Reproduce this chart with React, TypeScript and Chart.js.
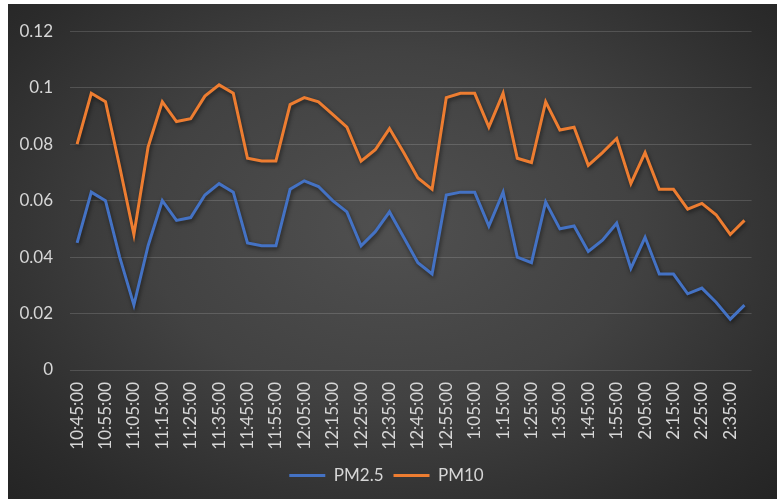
import React, { useEffect, useRef } from "react";
import { Chart, registerables } from "chart.js";

Chart.register(...registerables);

const timeLabels: string[] = [
  "10:45:00", "10:50:00", "10:55:00", "11:00:00", "11:05:00", "11:10:00",
  "11:15:00", "11:20:00", "11:25:00", "11:30:00", "11:35:00", "11:40:00",
  "11:45:00", "11:50:00", "11:55:00", "12:00:00", "12:05:00", "12:10:00",
  "12:15:00", "12:20:00", "12:25:00", "12:30:00", "12:35:00", "12:40:00",
  "12:45:00", "12:50:00", "12:55:00", "1:00:00", "1:05:00", "1:10:00",
  "1:15:00", "1:20:00", "1:25:00", "1:30:00", "1:35:00", "1:40:00",
  "1:45:00", "1:50:00", "1:55:00", "2:00:00", "2:05:00", "2:10:00",
  "2:15:00", "2:20:00", "2:25:00", "2:30:00", "2:35:00", "2:40:00",
];

const pm25: number[] = [
  0.045, 0.063, 0.06, 0.04, 0.023, 0.044, 0.06, 0.053, 0.054, 0.062, 0.066, 0.063,
  0.045, 0.044, 0.044, 0.064, 0.067, 0.065, 0.06, 0.056, 0.044, 0.049, 0.056, 0.047,
  0.038, 0.034, 0.062, 0.063, 0.063, 0.051, 0.063, 0.04, 0.038, 0.0595, 0.05, 0.051,
  0.042, 0.046, 0.052, 0.036, 0.047, 0.034, 0.034, 0.027, 0.029, 0.024, 0.018, 0.023,
];

const pm10: number[] = [
  0.08, 0.098, 0.095, 0.072, 0.048, 0.079, 0.095, 0.088, 0.089, 0.097, 0.101, 0.098,
  0.075, 0.074, 0.074, 0.094, 0.0965, 0.095, 0.0905, 0.086, 0.074, 0.078, 0.0855, 0.077,
  0.068, 0.064, 0.0965, 0.098, 0.098, 0.086, 0.098, 0.075, 0.0735, 0.095, 0.085, 0.086,
  0.0725, 0.077, 0.082, 0.066, 0.077, 0.064, 0.064, 0.057, 0.059, 0.055, 0.048, 0.053,
];

const seriesNames = ["PM2.5", "PM10"];
const seriesColors = ["#4472C4", "#ED7D31"];

const FONT = "Lato, 'Open Sans', sans-serif";
const TEXT_COLOR = "#d6d6d6";
const FONT_SIZE = 17;

const shadowPlugin = {
  id: "lineShadow",
  beforeDatasetsDraw(chart: any) {
    const ctx = chart.ctx;
    ctx.save();
    ctx.shadowColor = "rgba(0,0,0,0.55)";
    ctx.shadowBlur = 4;
    ctx.shadowOffsetX = 1;
    ctx.shadowOffsetY = 2;
  },
  afterDatasetsDraw(chart: any) {
    chart.ctx.restore();
  },
};

export default function App() {
  const canvasRef = useRef<HTMLCanvasElement | null>(null);

  useEffect(() => {
    if (!canvasRef.current) return;
    const chart = new Chart(canvasRef.current, {
      type: "line",
      data: {
        labels: timeLabels,
        datasets: [
          {
            label: seriesNames[0],
            data: pm25,
            borderColor: seriesColors[0],
            backgroundColor: seriesColors[0],
            borderWidth: 3,
            pointRadius: 0,
            tension: 0,
          },
          {
            label: seriesNames[1],
            data: pm10,
            borderColor: seriesColors[1],
            backgroundColor: seriesColors[1],
            borderWidth: 3,
            pointRadius: 0,
            tension: 0,
          },
        ],
      },
      options: {
        animation: false,
        responsive: true,
        maintainAspectRatio: false,
        layout: { padding: { left: 0, right: 12, top: 23, bottom: 5 } },
        plugins: {
          tooltip: { enabled: false },
          legend: {
            position: "bottom",
            labels: {
              color: TEXT_COLOR,
              font: { family: FONT, size: FONT_SIZE },
              boxWidth: 36,
              boxHeight: 3,
              padding: 10,
              generateLabels: (c: any) =>
                c.data.datasets.map((ds: any, i: number) => ({
                  text: ds.label,
                  fillStyle: ds.borderColor,
                  strokeStyle: ds.borderColor,
                  lineWidth: 0,
                  fontColor: TEXT_COLOR,
                  hidden: false,
                  datasetIndex: i,
                })),
            },
          },
        },
        scales: {
          x: {
            offset: true,
            grid: { display: false, drawTicks: false, tickLength: 0 },
            border: { display: false },
            ticks: {
              autoSkip: false,
              maxRotation: 90,
              minRotation: 90,
              padding: 12,
              color: TEXT_COLOR,
              font: { family: FONT, size: FONT_SIZE },
              callback: (_v: any, i: number) => (i % 2 === 0 ? timeLabels[i] : ""),
            },
            afterFit: (scale: any) => {
              scale.height = 87;
            },
          },
          y: {
            min: 0,
            max: 0.12,
            grid: {
              color: "rgba(255,255,255,0.15)",
              lineWidth: 1,
              drawTicks: false,
              tickLength: 0,
            },
            border: { display: false },
            ticks: {
              stepSize: 0.02,
              padding: 17,
              color: TEXT_COLOR,
              font: { family: FONT, size: FONT_SIZE },
              callback: (v: any) => String(Number(Number(v).toFixed(2))),
            },
            afterFit: (scale: any) => {
              scale.width = 62;
            },
          },
        },
      },
      plugins: [shadowPlugin],
    });
    return () => chart.destroy();
  }, []);

  return (
    <div
      style={{
        position: "absolute",
        left: 8,
        top: 4,
        width: 769,
        height: 495,
        background:
          "radial-gradient(ellipse at 50% 45%, #505050 0%, #424242 45%, #2b2b2b 85%, #242424 100%)",
      }}
    >
      <canvas ref={canvasRef} />
    </div>
  );
}
